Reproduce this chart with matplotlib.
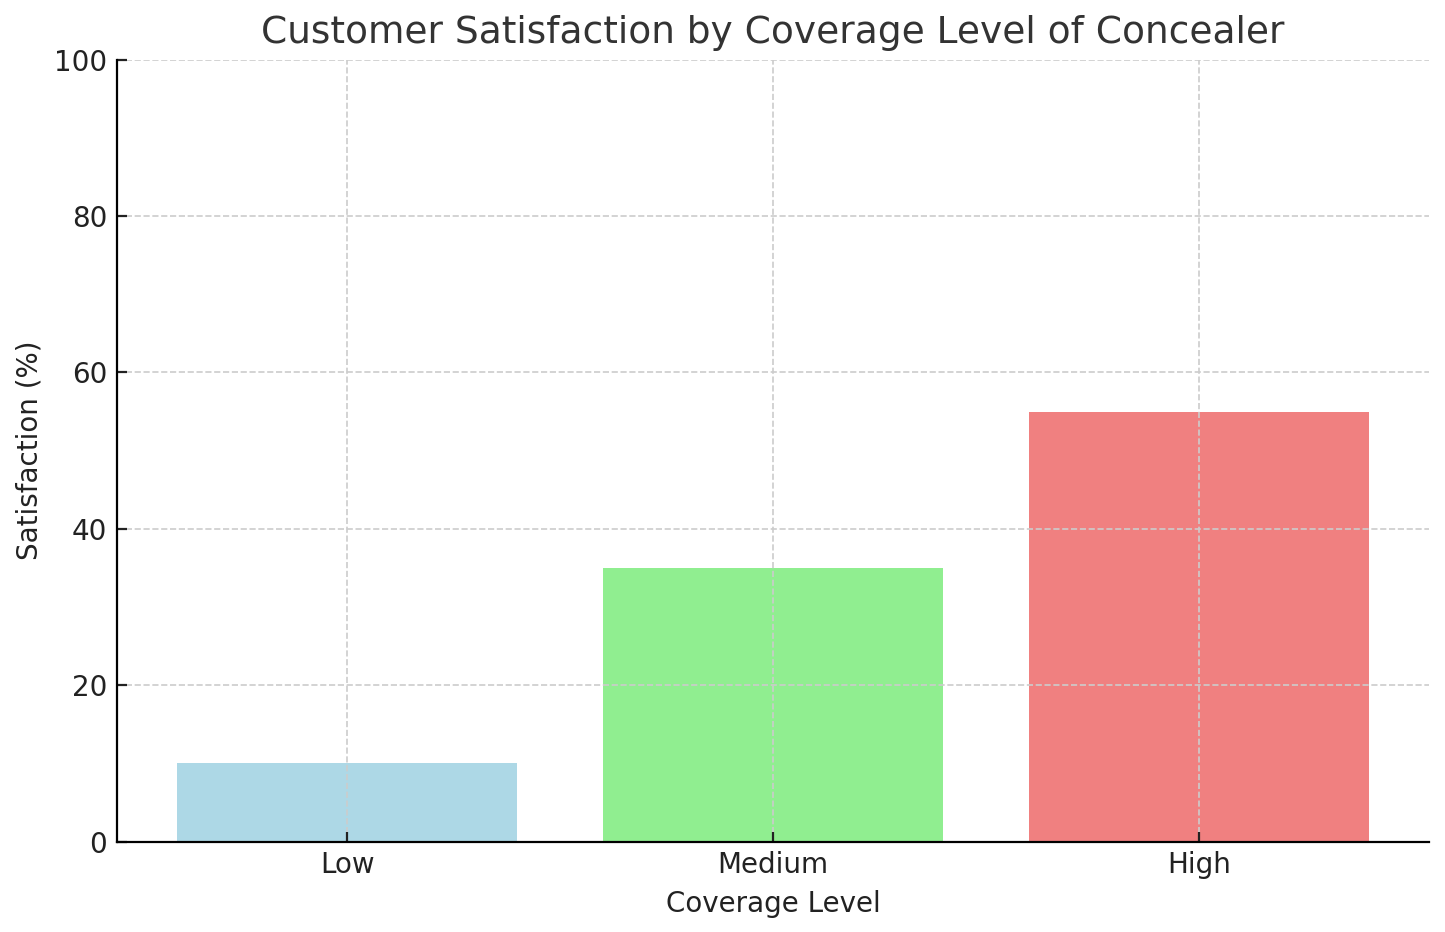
import matplotlib.pyplot as plt

# Data
coverage_levels = ["Low", "Medium", "High"]
satisfaction = [10, 35, 55]
bar_colors = ["lightblue", "lightgreen", "lightcoral"]

fig, ax = plt.subplots(figsize=(7.225, 4.66), dpi=200)

ax.bar(coverage_levels, satisfaction, color=bar_colors, zorder=1)

ax.set_ylim(0, 100)
ax.set_xlabel("Coverage Level", fontsize=10, color="#222222")
ax.set_ylabel("Satisfaction (%)", fontsize=10, color="#222222")
ax.set_title("Customer Satisfaction by Coverage Level of Concealer", fontsize=13.5, color="#333333")

ax.grid(True, linestyle="--", color="#cccccc", linewidth=0.6, zorder=2)
ax.tick_params(direction="in", labelsize=10, colors="#222222")
ax.spines["top"].set_visible(False)
ax.spines["right"].set_visible(False)
for side in ("left", "bottom"):
    ax.spines[side].set_zorder(3)

plt.subplots_adjust(left=0.081, right=0.989, top=0.936, bottom=0.097)
plt.savefig("out.png", dpi=200)
plt.close()
